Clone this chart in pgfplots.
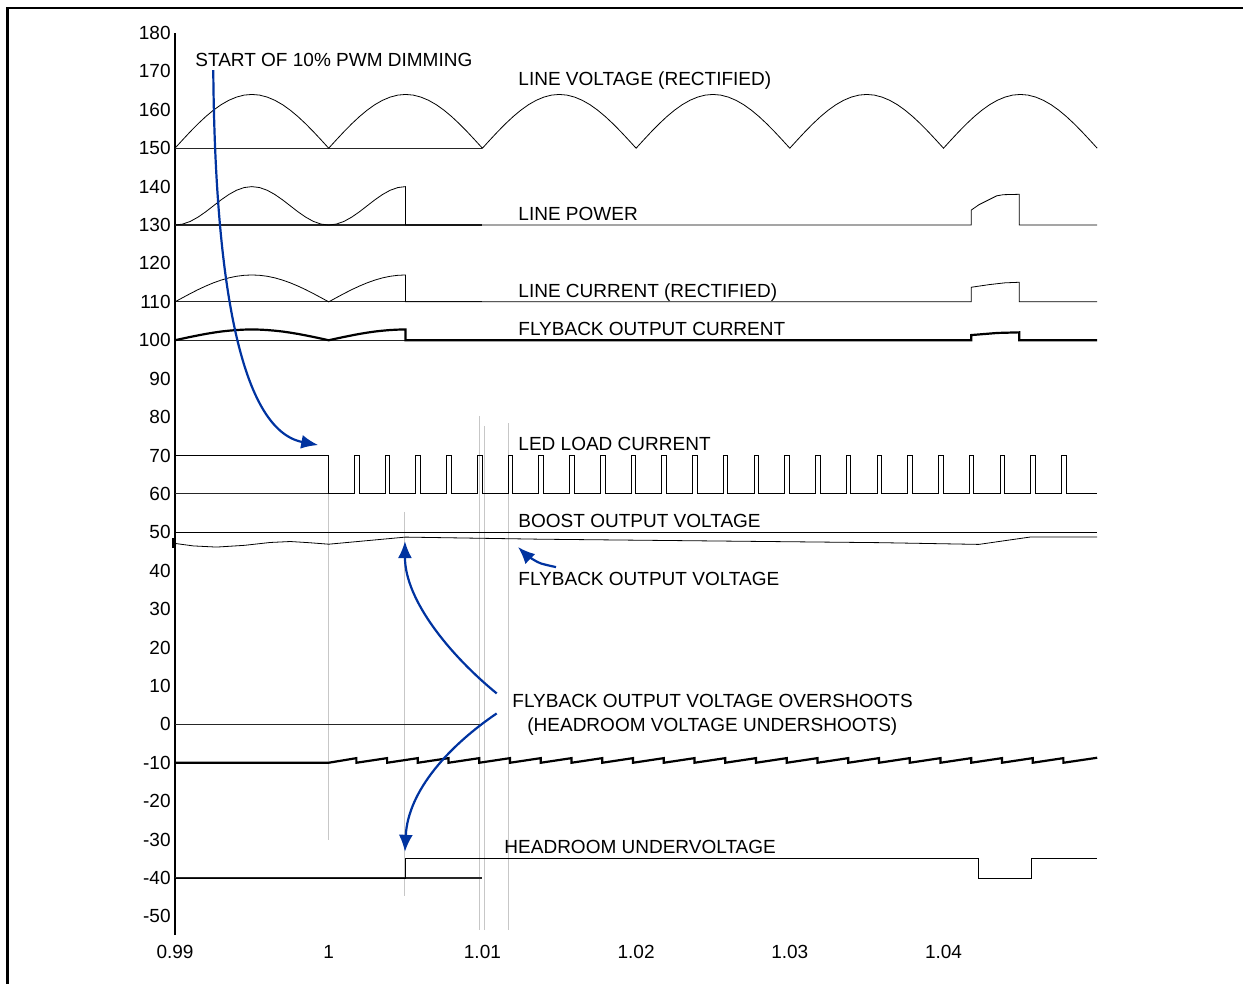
\documentclass[border=0pt]{standalone}
\usepackage{pgfplots}
\pgfplotsset{compat=1.18}
\usepackage{fontspec}
\setmainfont{Liberation Sans}
\usetikzlibrary{arrows.meta}
\definecolor{arrowblue}{RGB}{0,51,160}
\begin{document}
\begin{tikzpicture}
\begin{axis}[
  scale only axis, width=461pt, height=451pt,
  xmin=0.99, xmax=1.05, ymin=-54.9, ymax=180,
  clip=false,
  axis x line*=bottom, axis y line*=left,
  x axis line style={draw=none},
  y axis line style={line width=1pt},
  major tick length=0pt,
  xtick={0.99,1,1.01,1.02,1.03,1.04},
  xticklabels={0.99,1,1.01,1.02,1.03,1.04},
  ytick={-50,-40,-30,-20,-10,0,10,20,30,40,50,60,70,80,90,100,110,120,130,140,150,160,170,180},
  yticklabels={-50,-40,-30,-20,-10,0,10,20,30,40,50,60,70,80,90,100,110,120,130,140,150,160,170,180},
  ticklabel style={font=\fontsize{9.5}{11}\selectfont},
  xticklabel style={anchor=north, inner sep=0pt, yshift=-5pt},
  yticklabel style={anchor=east, inner sep=0pt, xshift=-2pt},
  cycle list={{black,solid,mark=none,line width=1.1pt}},
]
% bounding box and frame
\coordinate (bbBL) at (axis cs:0.978614,-67.40);
\coordinate (bbTR) at (axis cs:1.059486,188.59);
\draw[line width=1.25pt] (axis cs:0.979089,-70) -- (axis cs:0.979089,186.56) -- (axis cs:1.0600,186.56);

% gray vertical lines
\draw[black!22, line width=0.5pt] (axis cs:1.0,60) -- (axis cs:1.0,-30);
\draw[black!22, line width=0.5pt] (axis cs:1.00496,55.3) -- (axis cs:1.00496,-44.7);
\draw[black!22, line width=0.5pt] (axis cs:1.0098,80.3) -- (axis cs:1.0098,-53.6);
\draw[black!22, line width=0.5pt] (axis cs:1.01012,77.7) -- (axis cs:1.01012,-53.6);
\draw[black!22, line width=0.5pt] (axis cs:1.01169,78.4) -- (axis cs:1.01169,-53.6);

% thin baselines
\draw[black!85, line width=0.55pt] (axis cs:0.99,150) -- (axis cs:1.01,150);
\draw[black!85, line width=0.55pt] (axis cs:0.99,130) -- (axis cs:1.01,130);
\draw[black!85, line width=0.55pt] (axis cs:0.99,110) -- (axis cs:1.01,110);
\draw[black!85, line width=0.55pt] (axis cs:0.99,100) -- (axis cs:1.01,100);
\draw[black!85, line width=0.55pt] (axis cs:0.99,60) -- (axis cs:1.0,60);
\draw[black!85, line width=0.55pt] (axis cs:0.99,0) -- (axis cs:1.0099,0);
\draw[black!85, line width=0.55pt] (axis cs:0.99,-40) -- (axis cs:1.01,-40);

% LINE VOLTAGE (RECTIFIED)
\addplot coordinates {
(0.9900,150) (0.9905,152.19) (0.9910,154.33) (0.9915,156.36) (0.9920,158.23) (0.9925,159.90) (0.9930,161.33) (0.9935,162.47) (0.9940,163.31) (0.9945,163.83) (0.9950,164) (0.9955,163.83) (0.9960,163.31) (0.9965,162.47) (0.9970,161.33) (0.9975,159.90) (0.9980,158.23) (0.9985,156.36) (0.9990,154.33) (0.9995,152.19)
(1.0000,150) (1.0005,152.19) (1.0010,154.33) (1.0015,156.36) (1.0020,158.23) (1.0025,159.90) (1.0030,161.33) (1.0035,162.47) (1.0040,163.31) (1.0045,163.83) (1.0050,164) (1.0055,163.83) (1.0060,163.31) (1.0065,162.47) (1.0070,161.33) (1.0075,159.90) (1.0080,158.23) (1.0085,156.36) (1.0090,154.33) (1.0095,152.19)
(1.0100,150) (1.0105,152.19) (1.0110,154.33) (1.0115,156.36) (1.0120,158.23) (1.0125,159.90) (1.0130,161.33) (1.0135,162.47) (1.0140,163.31) (1.0145,163.83) (1.0150,164) (1.0155,163.83) (1.0160,163.31) (1.0165,162.47) (1.0170,161.33) (1.0175,159.90) (1.0180,158.23) (1.0185,156.36) (1.0190,154.33) (1.0195,152.19)
(1.0200,150) (1.0205,152.19) (1.0210,154.33) (1.0215,156.36) (1.0220,158.23) (1.0225,159.90) (1.0230,161.33) (1.0235,162.47) (1.0240,163.31) (1.0245,163.83) (1.0250,164) (1.0255,163.83) (1.0260,163.31) (1.0265,162.47) (1.0270,161.33) (1.0275,159.90) (1.0280,158.23) (1.0285,156.36) (1.0290,154.33) (1.0295,152.19)
(1.0300,150) (1.0305,152.19) (1.0310,154.33) (1.0315,156.36) (1.0320,158.23) (1.0325,159.90) (1.0330,161.33) (1.0335,162.47) (1.0340,163.31) (1.0345,163.83) (1.0350,164) (1.0355,163.83) (1.0360,163.31) (1.0365,162.47) (1.0370,161.33) (1.0375,159.90) (1.0380,158.23) (1.0385,156.36) (1.0390,154.33) (1.0395,152.19)
(1.0400,150) (1.0405,152.19) (1.0410,154.33) (1.0415,156.36) (1.0420,158.23) (1.0425,159.90) (1.0430,161.33) (1.0435,162.47) (1.0440,163.31) (1.0445,163.83) (1.0450,164) (1.0455,163.83) (1.0460,163.31) (1.0465,162.47) (1.0470,161.33) (1.0475,159.90) (1.0480,158.23) (1.0485,156.36) (1.0490,154.33) (1.0495,152.19)
(1.0500,150)
};

% LINE POWER
\addplot coordinates {
(0.9900,130) (0.9905,130.25) (0.9910,130.95) (0.9915,132.06) (0.9920,133.45) (0.9925,135) (0.9930,136.55) (0.9935,137.94) (0.9940,139.05) (0.9945,139.76) (0.9950,140) (0.9955,139.76) (0.9960,139.05) (0.9965,137.94) (0.9970,136.55) (0.9975,135) (0.9980,133.45) (0.9985,132.06) (0.9990,130.95) (0.9995,130.25)
(1.0000,130) (1.0005,130.25) (1.0010,130.95) (1.0015,132.06) (1.0020,133.45) (1.0025,135) (1.0030,136.55) (1.0035,137.94) (1.0040,139.05) (1.0045,139.76) (1.0050,140)
(1.0050,130) (1.04181,130) (1.04181,133.9) (1.04231,135.3) (1.04281,136.3) (1.04346,137.6) (1.04389,137.9) (1.04493,138.0) (1.04493,130) (1.05,130)
};

% LINE CURRENT (RECTIFIED)
\addplot coordinates {
(0.9900,110) (0.9905,111.09) (0.9910,112.16) (0.9915,113.18) (0.9920,114.11) (0.9925,114.95) (0.9930,115.66) (0.9935,116.24) (0.9940,116.66) (0.9945,116.91) (0.9950,117) (0.9955,116.91) (0.9960,116.66) (0.9965,116.24) (0.9970,115.66) (0.9975,114.95) (0.9980,114.11) (0.9985,113.18) (0.9990,112.16) (0.9995,111.09)
(1.0000,110) (1.0005,111.09) (1.0010,112.16) (1.0015,113.18) (1.0020,114.11) (1.0025,114.95) (1.0030,115.66) (1.0035,116.24) (1.0040,116.66) (1.0045,116.91) (1.0050,117)
(1.0050,110) (1.04181,110) (1.04181,113.8) (1.0430,114.5) (1.0440,114.95) (1.04493,115.1) (1.04493,110) (1.05,110)
};

% FLYBACK OUTPUT CURRENT
\addplot coordinates {
(0.9900,100) (0.9905,100.44) (0.9910,100.87) (0.9915,101.27) (0.9920,101.65) (0.9925,101.98) (0.9930,102.27) (0.9935,102.49) (0.9940,102.66) (0.9945,102.77) (0.9950,102.8) (0.9955,102.77) (0.9960,102.66) (0.9965,102.49) (0.9970,102.27) (0.9975,101.98) (0.9980,101.65) (0.9985,101.27) (0.9990,100.87) (0.9995,100.44)
(1.0000,100) (1.0005,100.44) (1.0010,100.87) (1.0015,101.27) (1.0020,101.65) (1.0025,101.98) (1.0030,102.27) (1.0035,102.49) (1.0040,102.66) (1.0045,102.77) (1.0050,102.8)
(1.0050,100) (1.04181,100) (1.04181,101.35) (1.0435,101.9) (1.04493,102.06) (1.04493,100) (1.05,100)
};

% LED LOAD CURRENT
\addplot coordinates {
(0.99,70) (1.0,70) (1.0,60)
(1.00167,60) (1.00167,70) (1.00197,70) (1.00197,60)
(1.00367,60) (1.00367,70) (1.00397,70) (1.00397,60)
(1.00567,60) (1.00567,70) (1.00597,70) (1.00597,60)
(1.00767,60) (1.00767,70) (1.00797,70) (1.00797,60)
(1.00967,60) (1.00967,70) (1.00997,70) (1.00997,60)
(1.01167,60) (1.01167,70) (1.01197,70) (1.01197,60)
(1.01367,60) (1.01367,70) (1.01397,70) (1.01397,60)
(1.01567,60) (1.01567,70) (1.01597,70) (1.01597,60)
(1.01767,60) (1.01767,70) (1.01797,70) (1.01797,60)
(1.01967,60) (1.01967,70) (1.01997,70) (1.01997,60)
(1.02167,60) (1.02167,70) (1.02197,70) (1.02197,60)
(1.02367,60) (1.02367,70) (1.02397,70) (1.02397,60)
(1.02567,60) (1.02567,70) (1.02597,70) (1.02597,60)
(1.02767,60) (1.02767,70) (1.02797,70) (1.02797,60)
(1.02967,60) (1.02967,70) (1.02997,70) (1.02997,60)
(1.03167,60) (1.03167,70) (1.03197,70) (1.03197,60)
(1.03367,60) (1.03367,70) (1.03397,70) (1.03397,60)
(1.03567,60) (1.03567,70) (1.03597,70) (1.03597,60)
(1.03767,60) (1.03767,70) (1.03797,70) (1.03797,60)
(1.03967,60) (1.03967,70) (1.03997,70) (1.03997,60)
(1.04167,60) (1.04167,70) (1.04197,70) (1.04197,60)
(1.04367,60) (1.04367,70) (1.04397,70) (1.04397,60)
(1.04567,60) (1.04567,70) (1.04597,70) (1.04597,60)
(1.04767,60) (1.04767,70) (1.04797,70) (1.04797,60)
(1.05,60)
};

% BOOST OUTPUT VOLTAGE
\addplot coordinates {(0.99,50) (1.05,50)};

% FLYBACK OUTPUT VOLTAGE
\addplot coordinates {
(0.99,47.1) (0.9912,46.45) (0.9927,46.15) (0.9945,46.6) (0.9962,47.35) (0.9975,47.6) (0.9987,47.3) (1.0,46.9) (1.005,48.75) (1.0138,48.2) (1.0359,47.3) (1.0423,46.85) (1.0457,48.8) (1.05,48.8)
};
\draw[line width=1pt] (axis cs:0.98988,45.9) -- (axis cs:0.98988,48.6);

% sawtooth at -10
\addplot coordinates {
(0.99,-10) (1.0,-10)
(1.0018,-8.8) (1.0018,-10) (1.0038,-8.8) (1.0038,-10) (1.0058,-8.8) (1.0058,-10) (1.0078,-8.8) (1.0078,-10)
(1.0098,-8.8) (1.0098,-10) (1.0118,-8.8) (1.0118,-10) (1.0138,-8.8) (1.0138,-10) (1.0158,-8.8) (1.0158,-10)
(1.0178,-8.8) (1.0178,-10) (1.0198,-8.8) (1.0198,-10) (1.0218,-8.8) (1.0218,-10) (1.0238,-8.8) (1.0238,-10)
(1.0258,-8.8) (1.0258,-10) (1.0278,-8.8) (1.0278,-10) (1.0298,-8.8) (1.0298,-10) (1.0318,-8.8) (1.0318,-10)
(1.0338,-8.8) (1.0338,-10) (1.0358,-8.8) (1.0358,-10) (1.0378,-8.8) (1.0378,-10) (1.0398,-8.8) (1.0398,-10)
(1.0418,-8.8) (1.0418,-10) (1.0438,-8.8) (1.0438,-10) (1.0458,-8.8) (1.0458,-10) (1.0478,-8.8) (1.0478,-10)
(1.05,-8.7)
};

% HEADROOM UNDERVOLTAGE
\addplot coordinates {
(0.99,-40) (1.00496,-40) (1.00496,-35) (1.04227,-35) (1.04227,-40) (1.04574,-40) (1.04574,-35) (1.05,-35)
};

% labels
\begin{scope}[every node/.style={anchor=base west, inner sep=0pt, font=\fontsize{9.5}{11}\selectfont}]
\node at (axis cs:0.99130,171.2) {START OF 10\% PWM DIMMING};
\node at (axis cs:1.01232,166.25) {LINE VOLTAGE (RECTIFIED)};
\node at (axis cs:1.01232,131.09) {LINE POWER};
\node at (axis cs:1.01232,111.04) {LINE CURRENT (RECTIFIED)};
\node at (axis cs:1.01232,101.15) {FLYBACK OUTPUT CURRENT};
\node at (axis cs:1.01232,71.2) {LED LOAD CURRENT};
\node at (axis cs:1.01232,51.15) {BOOST OUTPUT VOLTAGE};
\node at (axis cs:1.01232,36.04) {FLYBACK OUTPUT VOLTAGE};
\node at (axis cs:1.01193,4.27) {FLYBACK OUTPUT VOLTAGE OVERSHOOTS};
\node at (axis cs:1.01290,-1.98) {(HEADROOM VOLTAGE UNDERSHOOTS)};
\node at (axis cs:1.01141,-33.75) {HEADROOM UNDERVOLTAGE};
\end{scope}

% blue arrows
\begin{scope}[arrowblue, line width=1.1pt]
\draw[-{Latex[length=8.5pt,width=7pt]}] (axis cs:0.99249,170.36) .. controls (axis cs:0.99260,115.68) and (axis cs:0.99423,76.61) .. (axis cs:0.99932,72.71);
\draw[-{Latex[length=8.5pt,width=7pt]}] plot[smooth, tension=0.5] coordinates {
(axis cs:1.01479,40.94) (axis cs:1.01375,41.98) (axis cs:1.01297,43.8) (axis cs:1.01232,46.15)};
\draw[-{Latex[length=8.5pt,width=7pt]}] (axis cs:1.01093,8.05) .. controls (axis cs:1.00789,18.02) and (axis cs:1.00496,32.34) .. (axis cs:1.00496,47.71);
\draw[-{Latex[length=8.5pt,width=7pt]}] (axis cs:1.01093,2.84) .. controls (axis cs:1.00789,-5.42) and (axis cs:1.00516,-17.14) .. (axis cs:1.00496,-33.2);
\end{scope}
\end{axis}
\pgfresetboundingbox
\useasboundingbox (bbBL) rectangle (bbTR);
\end{tikzpicture}
\end{document}
